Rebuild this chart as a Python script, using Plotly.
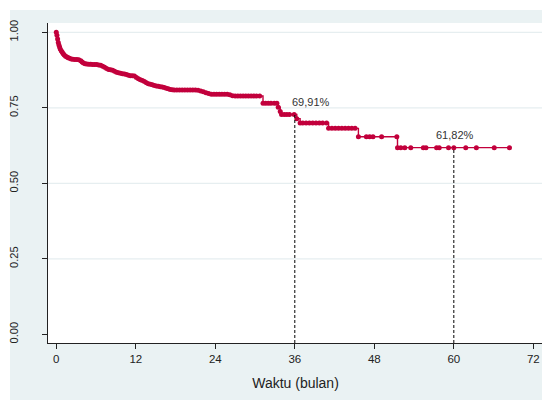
import plotly.graph_objects as go

# Kaplan-Meier survival estimates
time_months = [
    0.00, 0.10, 0.20, 0.30, 0.40, 0.50, 0.60, 0.75, 0.90, 1.05, 1.20, 1.40, 1.60, 1.80,
    2.00, 2.25, 2.50, 2.80, 3.10, 3.40, 3.70, 3.90, 4.10, 4.35, 4.60, 4.90, 5.20, 5.50,
    5.80, 6.10, 6.40, 6.70, 7.00, 7.30, 7.60, 7.90, 8.20, 8.50, 8.80, 9.10, 9.40, 9.70,
    10.0, 10.3, 10.6, 10.9, 11.2, 11.5, 11.8, 12.1, 12.4, 12.7, 13.0, 13.3, 13.6, 13.9,
    14.2, 14.5, 14.8, 15.1, 15.4, 15.7, 16.0, 16.3, 16.6, 16.9, 17.2, 17.5, 17.8, 18.2,
    18.6, 19.0, 19.4, 19.8, 20.2, 20.6, 21.0, 21.4, 21.8, 22.2, 22.6, 23.0, 23.4, 23.8,
    24.2, 24.6, 25.0, 25.4, 25.8, 26.2, 26.6, 27.0, 27.4, 27.8, 28.2, 28.6, 29.0, 29.4,
    29.8, 30.2, 30.7, 31.2, 31.6, 32.0, 32.4, 32.9, 33.3, 33.5, 33.8, 34.0, 34.4, 34.8,
    35.2, 35.9, 36.3, 36.8, 37.2, 37.7, 38.2, 38.7, 39.2, 39.7, 40.2, 40.8, 41.1, 41.6,
    42.1, 42.6, 43.1, 43.6, 44.1, 44.6, 45.1, 45.6, 46.8, 47.3, 47.8, 49.1, 51.4, 51.5,
    52.0, 52.6, 53.5, 55.4, 55.8, 57.4, 57.8, 59.2, 60.0, 61.8, 63.4, 66.1, 68.4,
]
survival = [
    1.000, 0.990, 0.978, 0.966, 0.958, 0.951, 0.945, 0.939, 0.934, 0.929, 0.925, 0.921, 0.918, 0.916,
    0.914, 0.912, 0.911, 0.910, 0.910, 0.909, 0.906, 0.902, 0.898, 0.896, 0.895, 0.894, 0.894, 0.893,
    0.893, 0.893, 0.892, 0.891, 0.888, 0.884, 0.880, 0.877, 0.876, 0.874, 0.871, 0.868, 0.866, 0.864,
    0.863, 0.862, 0.860, 0.858, 0.856, 0.856, 0.855, 0.850, 0.846, 0.843, 0.840, 0.837, 0.833, 0.830,
    0.828, 0.826, 0.824, 0.822, 0.821, 0.820, 0.819, 0.817, 0.815, 0.813, 0.811, 0.810, 0.809, 0.809,
    0.809, 0.809, 0.809, 0.809, 0.809, 0.809, 0.809, 0.808, 0.806, 0.803, 0.800, 0.797, 0.795, 0.795,
    0.795, 0.795, 0.795, 0.795, 0.795, 0.793, 0.790, 0.789, 0.789, 0.789, 0.789, 0.789, 0.789, 0.789,
    0.789, 0.789, 0.789, 0.765, 0.765, 0.765, 0.765, 0.765, 0.765, 0.752, 0.738, 0.728, 0.728, 0.728,
    0.728, 0.728, 0.714, 0.700, 0.700, 0.700, 0.700, 0.700, 0.700, 0.700, 0.700, 0.700, 0.682, 0.682,
    0.682, 0.682, 0.682, 0.682, 0.682, 0.682, 0.682, 0.654, 0.654, 0.654, 0.654, 0.654, 0.654, 0.618,
    0.618, 0.618, 0.618, 0.618, 0.618, 0.618, 0.618, 0.618, 0.618, 0.618, 0.618, 0.618, 0.618,
]

# Reference markers (dashed drop lines + labels)
mark_times = [36, 60]
mark_levels = [0.728, 0.618]
mark_labels = ["69,91%", "61,82%"]
label_x = [38.45, 60.2]
label_y = [0.769, 0.660]

x_ticks = [0, 12, 24, 36, 48, 60, 72]
y_ticks = [0.00, 0.25, 0.50, 0.75, 1.00]
y_tick_text = ["0.00", "0.25", "0.50", "0.75", "1.00"]

X_RANGE = [-1.25, 73.46]
Y_RANGE = [-0.0288, 1.0308]

RED = "#c2003c"
BG = "#eaf2f3"
GRID = "#e6eef0"
FONT = "Liberation Sans, Arial, sans-serif"

fig = go.Figure()

fig.add_trace(go.Scatter(
    x=time_months, y=survival, mode="lines+markers",
    line=dict(color=RED, width=1.4, shape="hv"),
    marker=dict(color=RED, size=5),
    showlegend=False, hoverinfo="skip",
))

shapes = []
# thin white page strips at top and left (page margin supplies the rest)
shapes.append(dict(type="rect", xref="paper", yref="paper", x0=-0.2, x1=1.2,
                   y0=(335 - 2) / 320, y1=1.2, fillcolor="white", line=dict(width=0), layer="below"))
shapes.append(dict(type="rect", xref="paper", yref="paper", x0=-0.2, x1=(2 - 40) / 495,
                   y0=-0.3, y1=1.2, fillcolor="white", line=dict(width=0), layer="below"))
# horizontal gridlines (not at 0)
for v in y_ticks:
    if v > 0:
        shapes.append(dict(type="line", xref="paper", yref="y", x0=0, x1=1, y0=v, y1=v,
                           line=dict(color=GRID, width=1.2), layer="below"))
# dashed drop lines
for t, s in zip(mark_times, mark_levels):
    shapes.append(dict(type="line", xref="x", yref="y", x0=t, x1=t, y0=Y_RANGE[0], y1=s,
                       line=dict(color="black", width=1, dash="3px,2px"), layer="above"))

annotations = []
for lx, ly, txt in zip(label_x, label_y, mark_labels):
    annotations.append(dict(x=lx, y=ly, xref="x", yref="y", text=txt, showarrow=False,
                            font=dict(family=FONT, size=11, color="#333333"),
                            xanchor="center", yanchor="middle"))

fig.update_layout(
    width=542, height=392,
    margin=dict(l=40, r=7, t=15, b=57, autoexpand=False),
    paper_bgcolor=BG, plot_bgcolor="white",
    shapes=shapes, annotations=annotations,
    font=dict(family=FONT, color="#222222"),
    xaxis=dict(
        range=X_RANGE, tickvals=x_ticks, ticktext=[str(v) for v in x_ticks],
        ticks="outside", ticklen=5, tickcolor="#222222", tickwidth=1,
        showline=True, linecolor="#222222", linewidth=1, mirror=False,
        showgrid=False, zeroline=False, automargin=False, ticklabeloverflow="allow",
        tickfont=dict(family=FONT, size=11.5, color="#222222"),
        title=dict(text="Waktu (bulan)", font=dict(family=FONT, size=14, color="#222222"), standoff=14),
    ),
    yaxis=dict(
        range=Y_RANGE, tickvals=y_ticks, ticktext=y_tick_text,
        ticks="outside", ticklen=5, tickcolor="#222222", tickwidth=1,
        showline=True, linecolor="#222222", linewidth=1,
        showgrid=False, zeroline=False, tickangle=-90, automargin=False,
        ticklabelstandoff=20, ticklabeloverflow="allow",
        tickfont=dict(family=FONT, size=11, color="#222222"),
    ),
)

fig.write_html("out.html")
